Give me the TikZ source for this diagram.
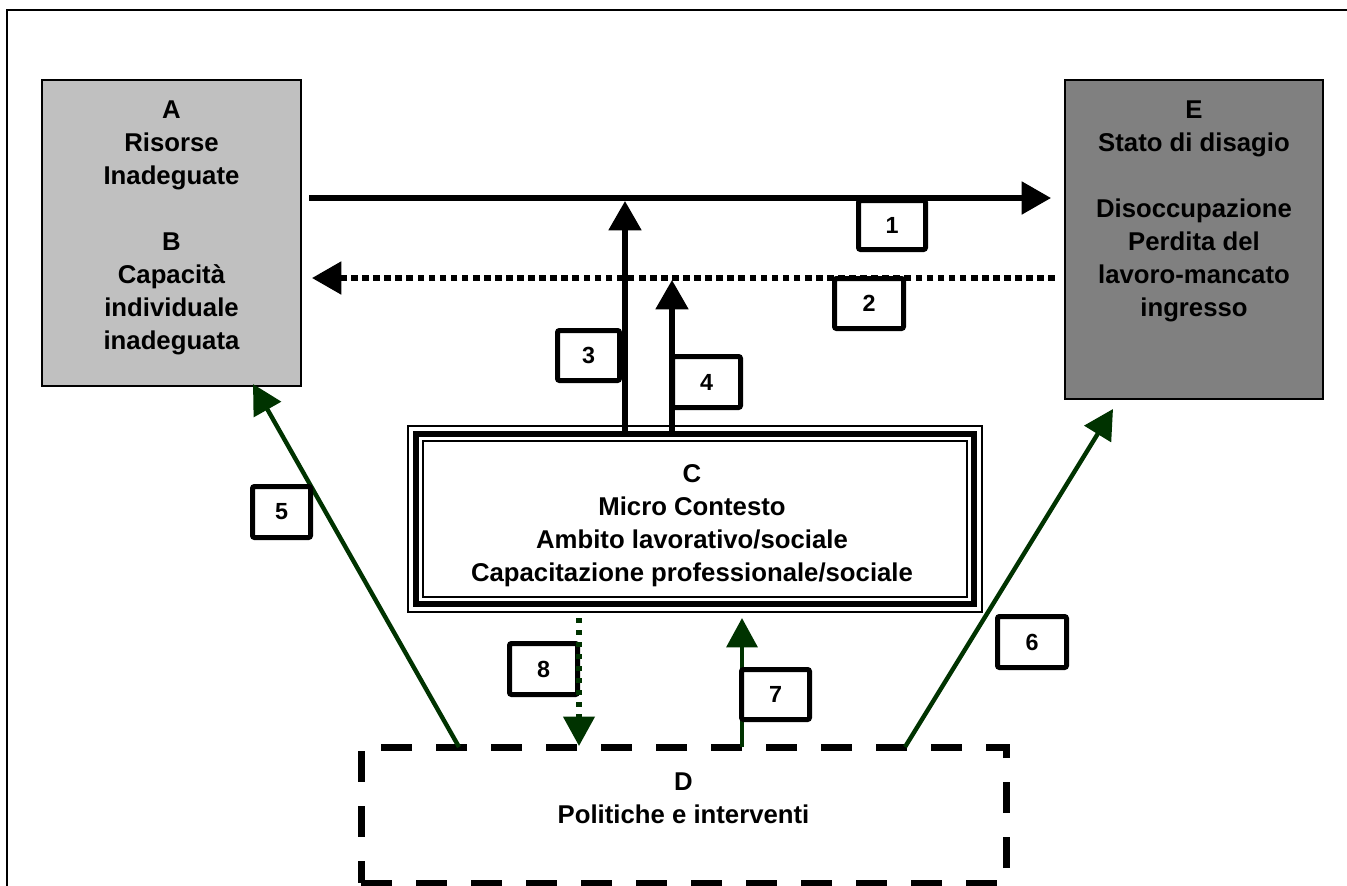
\documentclass[tikz,border=0pt]{standalone}
\usepackage{fontspec}
\setmainfont{Liberation Sans}
\usetikzlibrary{arrows.meta,calc}
\definecolor{dgreen}{RGB}{0,51,0}
\definecolor{fillA}{RGB}{192,192,192}
\definecolor{fillE}{RGB}{128,128,128}
\begin{document}
\begin{tikzpicture}[x=0.75pt,y=-0.75pt,
  txt/.style={font=\fontsize{19.3}{24.75}\selectfont\bfseries, align=center, inner sep=0pt, anchor=north},
  bigbox/.style={draw, line width=1.1pt, inner sep=0pt, outer sep=0pt},
  numbox/.style={draw, line width=3.75pt, fill=white, rounded corners=1.5pt, inner sep=0pt,
    font=\fontsize{17.5}{20}\selectfont\bfseries},
  blackarrow/.style={line width=3.9pt, -{Triangle[length=22pt,width=24pt]}},
  blackdots/.style={line width=3.9pt, dash pattern=on 5pt off 3.3pt, -{Triangle[length=22pt,width=24pt]}},
  greenarrow/.style={draw=dgreen, fill=dgreen, line width=3.3pt, -{Triangle[length=22pt,width=23pt]}},
  greendots/.style={draw=dgreen, line width=3.8pt, dash pattern=on 4pt off 5pt, -{Triangle[length=22pt,width=23pt]}}
]
\useasboundingbox (0,0) rectangle (1347,886);
% frame
\draw[line width=1.1pt] (7,886) -- (7,10) -- (1347,10);

% box A/B
\node[bigbox, fill=fillA, minimum width=194.25pt, minimum height=229.5pt] (A) at (171.5,233) {};
\node[txt] (Atext) at (171.5,101) {A\\Risorse\\Inadeguate\\[24.75pt]B\\Capacità\\individuale\\inadeguata};

% box E
\node[bigbox, fill=fillE, minimum width=193.5pt, minimum height=239.25pt] (E) at (1194,239.5) {};
\node[txt] (Etext) at (1194,101) {E\\Stato di disagio\\[24.75pt]Disoccupazione\\Perdita del\\lavoro-mancato\\ingresso};

% box C (triple border)
\node[bigbox, minimum width=430.5pt, minimum height=139.5pt] (C) at (695,519) {};
\draw[line width=3.9pt] ($(C.north west)+(8,8)$) rectangle ($(C.south east)+(-8,-8)$);
\draw[line width=2.2pt] ($(C.north west)+(15,15)$) rectangle ($(C.south east)+(-15,-15)$);
\node[txt] (Ctext) at (692,464) {C\\Micro Contesto\\Ambito lavorativo/sociale\\Capacitazione professionale/sociale};

% box D (dashed)
\node[draw, line width=5.25pt, dash pattern=on 23.25pt off 18pt, inner sep=0pt, outer sep=0pt,
  minimum width=483.75pt, minimum height=102pt] (D) at (683.5,815) {};
\node[txt] (Dtext) at (683.5,773) {D\\Politiche e interventi};

% connectors
\draw[blackarrow] ($(A.north east)+(8,118)$) -- ($(E.north west)+(-14,118)$);
\draw[blackdots] ($(E.north west)+(-10,198)$) -- ($(A.north east)+(11,198)$);
\draw[blackarrow] ($(C.north west)+(217,8)$) -- ($(A.north east)+(324,121)$);
\draw[blackarrow] ($(C.north west)+(264,8)$) -- ($(A.north east)+(371,200)$);
\draw[greenarrow] ($(D.north west)+(98,0)$) -- ($(A.south east)+(-48,-2)$);
\draw[greenarrow] ($(D.north west)+(544,0)$) -- ($(E.south west)+(48,10)$);
\draw[greenarrow] ($(D.north west)+(381,0)$) -- ($(C.south west)+(334,6)$);

% number labels
\node[numbox, minimum width=50.25pt, minimum height=36.75pt] (n1) at (892,225) {1};
\node[numbox, minimum width=51.75pt, minimum height=37.5pt] (n2) at (869,303.5) {2};
\node[numbox, minimum width=46.5pt, minimum height=37.5pt] (n3) at (588.5,355.5) {3};
\node[numbox, minimum width=51pt, minimum height=38.25pt] (n4) at (706.5,382) {4};
\node[numbox, minimum width=43.5pt, minimum height=38.25pt] (n5) at (281.5,512) {5};
\node[numbox, minimum width=51.75pt, minimum height=38.25pt] (n6) at (1032,642) {6};
\node[numbox, minimum width=51pt, minimum height=37.5pt] (n7) at (775.5,694.5) {7};
\node[numbox, minimum width=51pt, minimum height=38.25pt] (n8) at (543.5,669) {8};

% dotted green connector drawn over label 8
\draw[greendots] ($(C.south west)+(171,6)$) -- ($(D.north west)+(218,-1)$);
\end{tikzpicture}
\end{document}
